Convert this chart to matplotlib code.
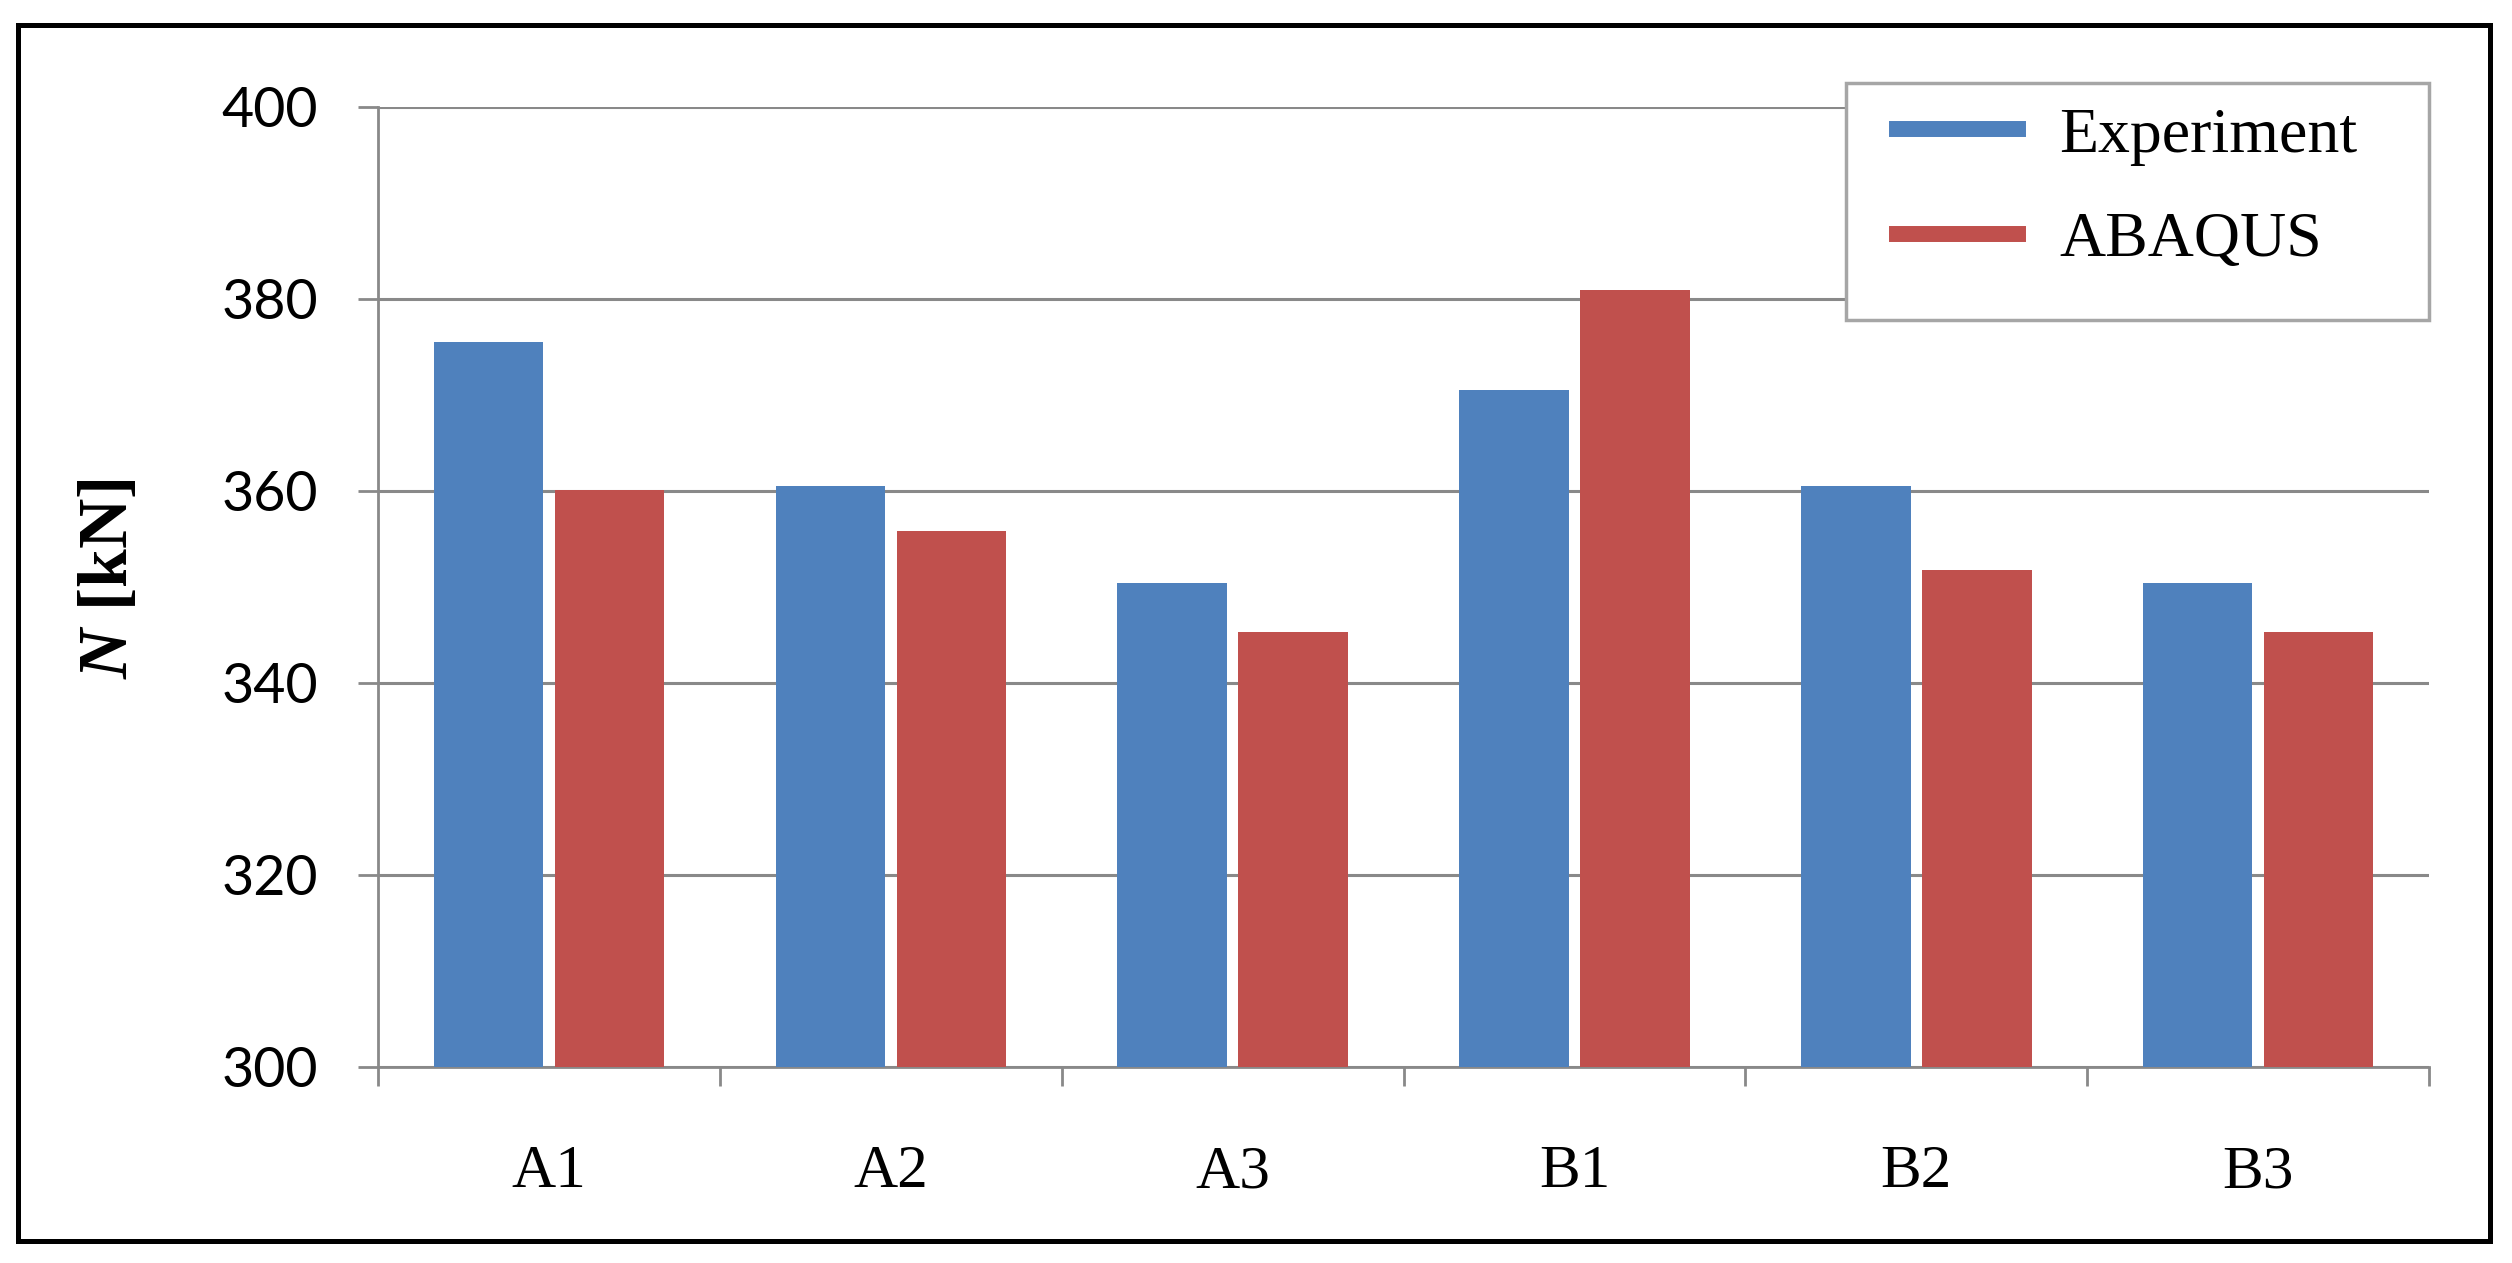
import matplotlib
matplotlib.use("Agg")
import matplotlib.pyplot as plt
import numpy as np
from matplotlib.lines import Line2D
from matplotlib.patches import Rectangle

# data
categories = ["A1", "A2", "A3", "B1", "B2", "B3"]
experiment = [375.5, 360.5, 350.4, 370.5, 360.5, 350.4]
abaqus = [360.1, 355.8, 345.3, 380.9, 351.8, 345.3]
yticks = [300, 320, 340, 360, 380, 400]
series_names = ["Experiment", "ABAQUS"]

blue = "#4F81BD"
red = "#C0504D"
grey = "#898989"

plt.rcParams["mathtext.fontset"] = "custom"
plt.rcParams["mathtext.it"] = "Liberation Serif:italic:bold"
plt.rcParams["mathtext.rm"] = "Liberation Serif:bold"

fig = plt.figure(figsize=(25.12, 12.63), dpi=100)
fig.set_facecolor("white")
ax = fig.add_axes([0.1505, 0.1552, 0.8165, 0.7601])

x = np.arange(len(categories))
w = 0.32
off = 0.177
ax.bar(x - off, np.array(experiment) - 300, w, bottom=300, color=blue, zorder=3)
ax.bar(x + off, np.array(abaqus) - 300, w, bottom=300, color=red, zorder=3)

ax.set_xlim(-0.5, len(categories) - 0.5)
ax.set_ylim(300, 400)
ax.set_yticks(yticks)
ax.set_yticklabels([str(v) for v in yticks], family="Lato", fontsize=40)
ax.yaxis.grid(True, color=grey, linewidth=2.2, zorder=0)
ax.set_axisbelow(True)

ax.set_xticks(x)
ax.set_xticklabels(categories, family="Liberation Serif", fontsize=44)
ax.set_xticks(np.arange(-0.5, len(categories)), minor=True)
ax.tick_params(axis="x", which="major", length=0, pad=56)
ax.tick_params(axis="x", which="minor", length=14, width=2, color=grey)
ax.tick_params(axis="y", length=14.4, width=2, color=grey, pad=29)

for s in ["top", "right"]:
    ax.spines[s].set_visible(False)
for s in ["left", "bottom"]:
    ax.spines[s].set_color(grey)
    ax.spines[s].set_linewidth(2)

fig.text(0.0438, 0.5416, r"$N$ [kN]", rotation=90, ha="center", va="center",
         family="Liberation Serif", fontweight="bold", fontsize=50)

# legend without its own frame; the box is drawn separately
handles = [Line2D([], [], color=blue, linewidth=11.5), Line2D([], [], color=red, linewidth=11.5)]
leg = fig.legend(handles, series_names, loc="upper left",
                 bbox_to_anchor=(0.7552, 0.9153), bbox_transform=fig.transFigure,
                 borderaxespad=0, borderpad=0, frameon=False,
                 prop={"family": "Liberation Serif", "size": 46},
                 handlelength=1.9, handletextpad=0.64, labelspacing=0.72)
fig.patches.append(Rectangle((0.7349, 0.7466), 0.2321, 0.1877, transform=fig.transFigure,
                             facecolor="white", edgecolor="#A6A6A6", linewidth=2.5, zorder=2))

# black outer frame
fig.patches.append(Rectangle((0.00697, 0.0174), 0.9842, 0.9628, transform=fig.transFigure,
                             fill=False, edgecolor="black", linewidth=3.6, zorder=10))

fig.savefig("out.png", dpi=100, facecolor="white")
